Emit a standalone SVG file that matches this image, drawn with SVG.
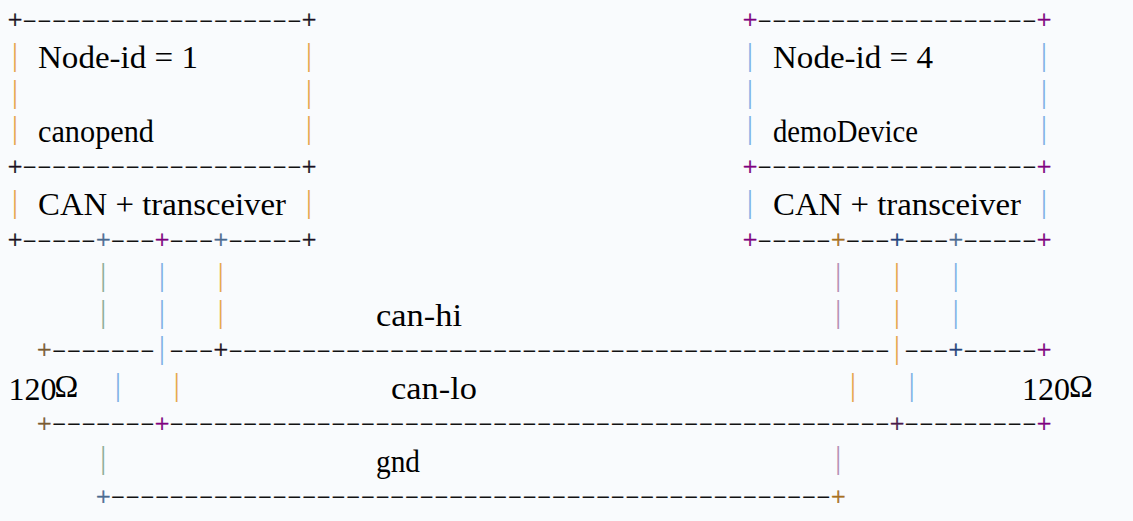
<svg xmlns="http://www.w3.org/2000/svg" width="1133" height="521" viewBox="0 0 1133 521">
<style>
.dh{font-family:"Liberation Serif",serif;font-size:20px;fill:#111}
.pl{font-family:"Liberation Serif",serif;font-size:25.9px;text-anchor:middle;stroke-width:0.45px}
.pi{font-family:"Liberation Serif",serif;font-size:32px;text-anchor:middle}
.t{font-family:"Liberation Serif",serif;font-size:32px;fill:#000}
.k{fill:#1a1020;stroke:#1a1020}.pu{fill:#800080;stroke:#800080}.dp{fill:#4a1a4a;stroke:#4a1a4a}.db{fill:#23407a;stroke:#23407a}
.or{fill:#e6a84e;stroke:#e6a84e}.bl{fill:#82b2e6;stroke:#82b2e6}.gg{fill:#8fae98;stroke:#8fae98}.lp{fill:#b690b6;stroke:#b690b6}
.br{fill:#7a5a30;stroke:#7a5a30}.lb{fill:#4a6a90;stroke:#4a6a90}.oo{fill:#a87020;stroke:#a87020}
.pi{stroke:none}
</style>
<rect width="1133" height="521" fill="#f9fbfd"/>
<g id="node-1">
<text class="pl k" x="15" y="28.2">+</text>
<text class="dh" x="22.35" y="25.5" textLength="279.3" lengthAdjust="spacingAndGlyphs">-------------------</text>
<text class="pl k" x="309" y="28.2">+</text>
<text class="pi or" x="15" y="65">|</text>
<text class="pi or" x="309" y="65">|</text>
<text class="pi or" x="15" y="101.6">|</text>
<text class="pi or" x="309" y="101.6">|</text>
<text class="pi or" x="15" y="138.3">|</text>
<text class="pi or" x="309" y="138.3">|</text>
<text class="pl k" x="15" y="174.9">+</text>
<text class="dh" x="22.35" y="172.2" textLength="279.3" lengthAdjust="spacingAndGlyphs">-------------------</text>
<text class="pl k" x="309" y="174.9">+</text>
<text class="pi or" x="15" y="211.6">|</text>
<text class="pi or" x="309" y="211.6">|</text>
<text class="pl k" x="15" y="248.2">+</text>
<text class="dh" x="22.35" y="245.5" textLength="73.5" lengthAdjust="spacingAndGlyphs">-----</text>
<text class="pl lb" x="103.2" y="248.2">+</text>
<text class="dh" x="110.55" y="245.5" textLength="44.1" lengthAdjust="spacingAndGlyphs">---</text>
<text class="pl pu" x="162" y="248.2">+</text>
<text class="dh" x="169.35" y="245.5" textLength="44.1" lengthAdjust="spacingAndGlyphs">---</text>
<text class="pl lb" x="220.8" y="248.2">+</text>
<text class="dh" x="228.15" y="245.5" textLength="73.5" lengthAdjust="spacingAndGlyphs">-----</text>
<text class="pl k" x="309" y="248.2">+</text>
<text class="t" x="38" y="68.2" textLength="160" lengthAdjust="spacingAndGlyphs">Node-id = 1</text>
<text class="t" x="38" y="141.5" textLength="116" lengthAdjust="spacingAndGlyphs">canopend</text>
<text class="t" x="38" y="214.9" textLength="248" lengthAdjust="spacingAndGlyphs">CAN + transceiver</text>
</g>
<g id="node-4">
<text class="pl pu" x="750" y="28.2">+</text>
<text class="dh" x="757.35" y="25.5" textLength="279.3" lengthAdjust="spacingAndGlyphs">-------------------</text>
<text class="pl pu" x="1044" y="28.2">+</text>
<text class="pi bl" x="750" y="65">|</text>
<text class="pi bl" x="1044" y="65">|</text>
<text class="pi bl" x="750" y="101.6">|</text>
<text class="pi bl" x="1044" y="101.6">|</text>
<text class="pi bl" x="750" y="138.3">|</text>
<text class="pi bl" x="1044" y="138.3">|</text>
<text class="pl pu" x="750" y="174.9">+</text>
<text class="dh" x="757.35" y="172.2" textLength="279.3" lengthAdjust="spacingAndGlyphs">-------------------</text>
<text class="pl pu" x="1044" y="174.9">+</text>
<text class="pi bl" x="750" y="211.6">|</text>
<text class="pi bl" x="1044" y="211.6">|</text>
<text class="pl pu" x="750" y="248.2">+</text>
<text class="dh" x="757.35" y="245.5" textLength="73.5" lengthAdjust="spacingAndGlyphs">-----</text>
<text class="pl oo" x="838.2" y="248.2">+</text>
<text class="dh" x="845.55" y="245.5" textLength="44.1" lengthAdjust="spacingAndGlyphs">---</text>
<text class="pl db" x="897" y="248.2">+</text>
<text class="dh" x="904.35" y="245.5" textLength="44.1" lengthAdjust="spacingAndGlyphs">---</text>
<text class="pl lb" x="955.8" y="248.2">+</text>
<text class="dh" x="963.15" y="245.5" textLength="73.5" lengthAdjust="spacingAndGlyphs">-----</text>
<text class="pl pu" x="1044" y="248.2">+</text>
<text class="t" x="773" y="68.2" textLength="160" lengthAdjust="spacingAndGlyphs">Node-id = 4</text>
<text class="t" x="773" y="141.5" textLength="145" lengthAdjust="spacingAndGlyphs">demoDevice</text>
<text class="t" x="773" y="214.9" textLength="248" lengthAdjust="spacingAndGlyphs">CAN + transceiver</text>
</g>
<g id="connectors">
<text class="pi gg" x="103.2" y="285">|</text>
<text class="pi bl" x="162" y="285">|</text>
<text class="pi or" x="220.8" y="285">|</text>
<text class="pi lp" x="838.2" y="285">|</text>
<text class="pi or" x="897" y="285">|</text>
<text class="pi bl" x="955.8" y="285">|</text>
<text class="pi gg" x="103.2" y="321.6">|</text>
<text class="pi bl" x="162" y="321.6">|</text>
<text class="pi or" x="220.8" y="321.6">|</text>
<text class="pi lp" x="838.2" y="321.6">|</text>
<text class="pi or" x="897" y="321.6">|</text>
<text class="pi bl" x="955.8" y="321.6">|</text>
<text class="pl br" x="44.4" y="358.2">+</text>
<text class="dh" x="51.75" y="355.5" textLength="102.9" lengthAdjust="spacingAndGlyphs">-------</text>
<text class="pi bl" x="162" y="358.3">|</text>
<text class="dh" x="169.35" y="355.5" textLength="44.1" lengthAdjust="spacingAndGlyphs">---</text>
<text class="pl k" x="220.8" y="358.2">+</text>
<text class="dh" x="228.15" y="355.5" textLength="661.5" lengthAdjust="spacingAndGlyphs">---------------------------------------------</text>
<text class="pi or" x="897" y="358.3">|</text>
<text class="dh" x="904.35" y="355.5" textLength="44.1" lengthAdjust="spacingAndGlyphs">---</text>
<text class="pl db" x="955.8" y="358.2">+</text>
<text class="dh" x="963.15" y="355.5" textLength="73.5" lengthAdjust="spacingAndGlyphs">-----</text>
<text class="pl pu" x="1044" y="358.2">+</text>
<text class="pi bl" x="117.9" y="395">|</text>
<text class="pi or" x="176.7" y="395">|</text>
<text class="pi or" x="852.9" y="395">|</text>
<text class="pi bl" x="911.7" y="395">|</text>
<text class="pl br" x="44.4" y="431.5">+</text>
<text class="dh" x="51.75" y="428.8" textLength="102.9" lengthAdjust="spacingAndGlyphs">-------</text>
<text class="pl pu" x="162" y="431.5">+</text>
<text class="dh" x="169.35" y="428.8" textLength="720.3" lengthAdjust="spacingAndGlyphs">-------------------------------------------------</text>
<text class="pl dp" x="897" y="431.5">+</text>
<text class="dh" x="904.35" y="428.8" textLength="132.3" lengthAdjust="spacingAndGlyphs">---------</text>
<text class="pl pu" x="1044" y="431.5">+</text>
<text class="pi gg" x="103.2" y="468.3">|</text>
<text class="pi lp" x="838.2" y="468.3">|</text>
<text class="pl lb" x="103.2" y="504.9">+</text>
<text class="dh" x="110.55" y="502.2" textLength="720.3" lengthAdjust="spacingAndGlyphs">-------------------------------------------------</text>
<text class="pl oo" x="838.2" y="504.9">+</text>
</g>
<g id="labels">
<text class="t" x="376" y="325.5" textLength="86" lengthAdjust="spacingAndGlyphs">can-hi</text>
<text class="t" x="391" y="398.5" textLength="86" lengthAdjust="spacingAndGlyphs">can-lo</text>
<text class="t" x="376" y="471.5" textLength="44" lengthAdjust="spacingAndGlyphs">gnd</text>
</g>
<g id="term-left">
<text class="t" x="8.5" y="400" font-size="30">120</text>
<text class="t" x="66.5" y="397" font-size="21" text-anchor="middle">Ω</text>
</g>
<g id="term-right">
<text class="t" x="1022" y="400" font-size="30">120</text>
<text class="t" x="1081" y="397" font-size="21" text-anchor="middle">Ω</text>
</g>
</svg>
